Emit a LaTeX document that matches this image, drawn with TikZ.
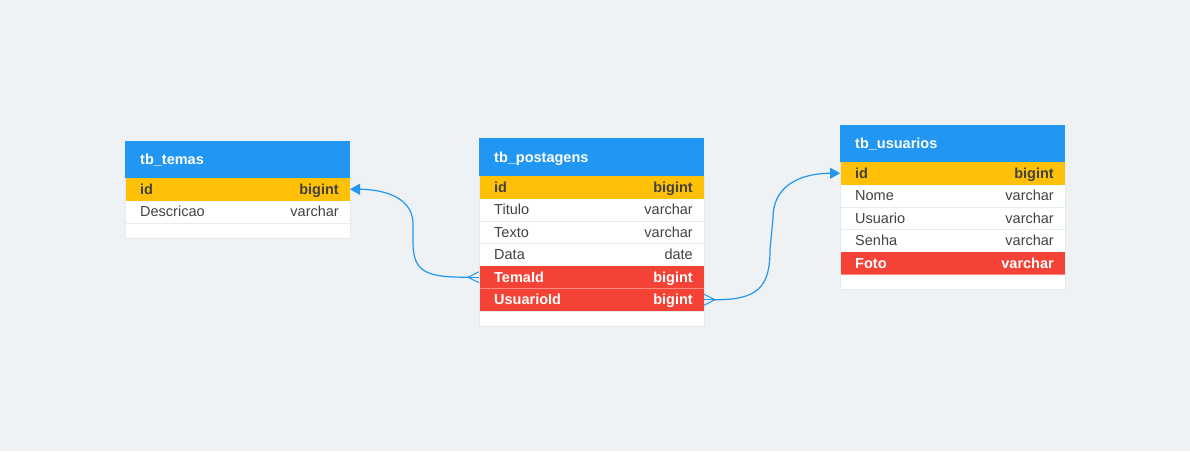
\documentclass[tikz,border=0pt]{standalone}
\usepackage{fontspec}
\setmainfont{Liberation Sans}
\usetikzlibrary{arrows.meta}
\definecolor{bg}{HTML}{EEF2F5}
\definecolor{hdr}{HTML}{2196F3}
\definecolor{pk}{HTML}{FFC107}
\definecolor{fk}{HTML}{F44336}
\definecolor{txt}{HTML}{424242}
\definecolor{sepc}{HTML}{E8EBEE}
\definecolor{fksep}{HTML}{F88A80}
\definecolor{link}{HTML}{2196F3}
\definecolor{edge}{HTML}{E4E9EE}
\tikzset{
  rowbox/.style={rectangle, minimum width=225pt, minimum height=22.5pt, inner sep=0pt, outer sep=0pt, draw=none},
  hdrbox/.style={rectangle, minimum width=225pt, inner sep=0pt, outer sep=0pt, fill=hdr},
  endbox/.style={rectangle, minimum width=225pt, minimum height=15pt, inner sep=0pt, outer sep=0pt, fill=white},
  celltext/.style={inner sep=0pt, font=\fontsize{14.5}{16}\selectfont},
  plain/.style={text=txt},
  keytext/.style={text=txt, font=\fontsize{14.5}{16}\selectfont\bfseries},
  fktext/.style={text=white, font=\fontsize{14.5}{16}\selectfont\bfseries},
  hdrtext/.style={inner sep=0pt, text=white, font=\fontsize{14.5}{16}\selectfont\bfseries},
  sepline/.style={draw=sepc, line width=1pt},
  fksepline/.style={draw=fksep, line width=1pt},
  frame/.style={draw=edge, line width=0.4pt},
  link/.style={draw=link, line width=1.2pt},
  crow/.style={draw=link, line width=1pt},
  tip/.style={-{Triangle[length=10pt,width=11pt]}}
}
% name, xleft, ytop, fill, text style, left text, right text
\newcommand\dbrow[7]{%
  \node[rowbox, fill=#4] (#1) at (#2+112.5, #3+11.25) {};
  \node[celltext, #5, anchor=base west] (#1-l) at ([xshift=15pt,yshift=-5pt]#1.west) {#6};
  \node[celltext, #5, anchor=base east] (#1-r) at ([xshift=-11pt,yshift=-5pt]#1.east) {#7};
}
\begin{document}
\begin{tikzpicture}[x=1pt,y=-1pt]
\fill[bg] (0,0) rectangle (1190,451);
\useasboundingbox (0,0) rectangle (1190,451);

% ---------------- tb_temas ----------------
\node[hdrbox, minimum height=37pt] (tm) at (237.5, 159.5) {};
\node[hdrtext, anchor=base west] (tm-t) at ([xshift=15pt,yshift=-5pt]tm.west) {tb\_temas};
\dbrow{tm-id}{125}{178}{pk}{keytext}{id}{bigint}
\dbrow{tm-desc}{125}{200.5}{white}{plain}{Descricao}{varchar}
\node[endbox] (tm-end) at (237.5, 230.5) {};
\draw[sepline] (tm-desc.south west) -- (tm-desc.south east);
\draw[frame] (tm-id.north west) -- (tm-end.south west) -- (tm-end.south east) -- (tm-id.north east);

% ---------------- tb_postagens ----------------
\node[hdrbox, minimum height=38pt] (pt) at (591.5, 157) {};
\node[hdrtext, anchor=base west] (pt-t) at ([xshift=15pt,yshift=-5pt]pt.west) {tb\_postagens};
\dbrow{pt-id}{479}{176}{pk}{keytext}{id}{bigint}
\dbrow{pt-titulo}{479}{198.5}{white}{plain}{Titulo}{varchar}
\dbrow{pt-texto}{479}{221}{white}{plain}{Texto}{varchar}
\dbrow{pt-data}{479}{243.5}{white}{plain}{Data}{date}
\dbrow{pt-temaid}{479}{266}{fk}{fktext}{TemaId}{bigint}
\dbrow{pt-usuarioid}{479}{288.5}{fk}{fktext}{UsuarioId}{bigint}
\node[endbox] (pt-end) at (591.5, 318.5) {};
\draw[sepline] (pt-titulo.south west) -- (pt-titulo.south east);
\draw[sepline] (pt-texto.south west) -- (pt-texto.south east);
\draw[fksepline] (pt-temaid.south west) -- (pt-temaid.south east);
\draw[sepline] (pt-usuarioid.south west) -- (pt-usuarioid.south east);
\draw[frame] (pt-id.north west) -- (pt-end.south west) -- (pt-end.south east) -- (pt-id.north east);

% ---------------- tb_usuarios ----------------
\node[hdrbox, minimum height=37pt] (us) at (952.5, 143.5) {};
\node[hdrtext, anchor=base west] (us-t) at ([xshift=15pt,yshift=-5pt]us.west) {tb\_usuarios};
\dbrow{us-id}{840}{162}{pk}{keytext}{id}{bigint}
\dbrow{us-nome}{840}{184.5}{white}{plain}{Nome}{varchar}
\dbrow{us-usuario}{840}{207}{white}{plain}{Usuario}{varchar}
\dbrow{us-senha}{840}{229.5}{white}{plain}{Senha}{varchar}
\dbrow{us-foto}{840}{252}{fk}{fktext}{Foto}{varchar}
\node[endbox] (us-end) at (952.5, 282) {};
\draw[sepline] (us-nome.south west) -- (us-nome.south east);
\draw[sepline] (us-usuario.south west) -- (us-usuario.south east);
\draw[fksepline] (us-foto.south west) -- (us-foto.south east);
\draw[frame] (us-id.north west) -- (us-end.south west) -- (us-end.south east) -- (us-id.north east);

% ---------------- connectors ----------------
\coordinate (c1) at ([xshift=-11pt]pt-temaid.west);
\draw[crow] ([yshift=5.5pt]pt-temaid.west) -- (c1) -- ([yshift=-5.5pt]pt-temaid.west);
\draw[crow] (pt-temaid.west) -- (c1);
\draw[link, tip] (c1) .. controls +(-40,0) and +(0,30) .. (413,243)
  -- (413,224) .. controls +(0,-32) and +(22,0) .. (tm-id.east);

\coordinate (c2) at ([xshift=11pt]pt-usuarioid.east);
\draw[crow] ([yshift=5.5pt]pt-usuarioid.east) -- (c2) -- ([yshift=-5.5pt]pt-usuarioid.east);
\draw[crow] (pt-usuarioid.east) -- (c2);
\draw[link, tip] (c2) .. controls +(42,0) and +(0,38) .. (770,250)
  -- (773,218) .. controls +(0,-36) and +(-34,0) .. (us-id.west);
\end{tikzpicture}
\end{document}
